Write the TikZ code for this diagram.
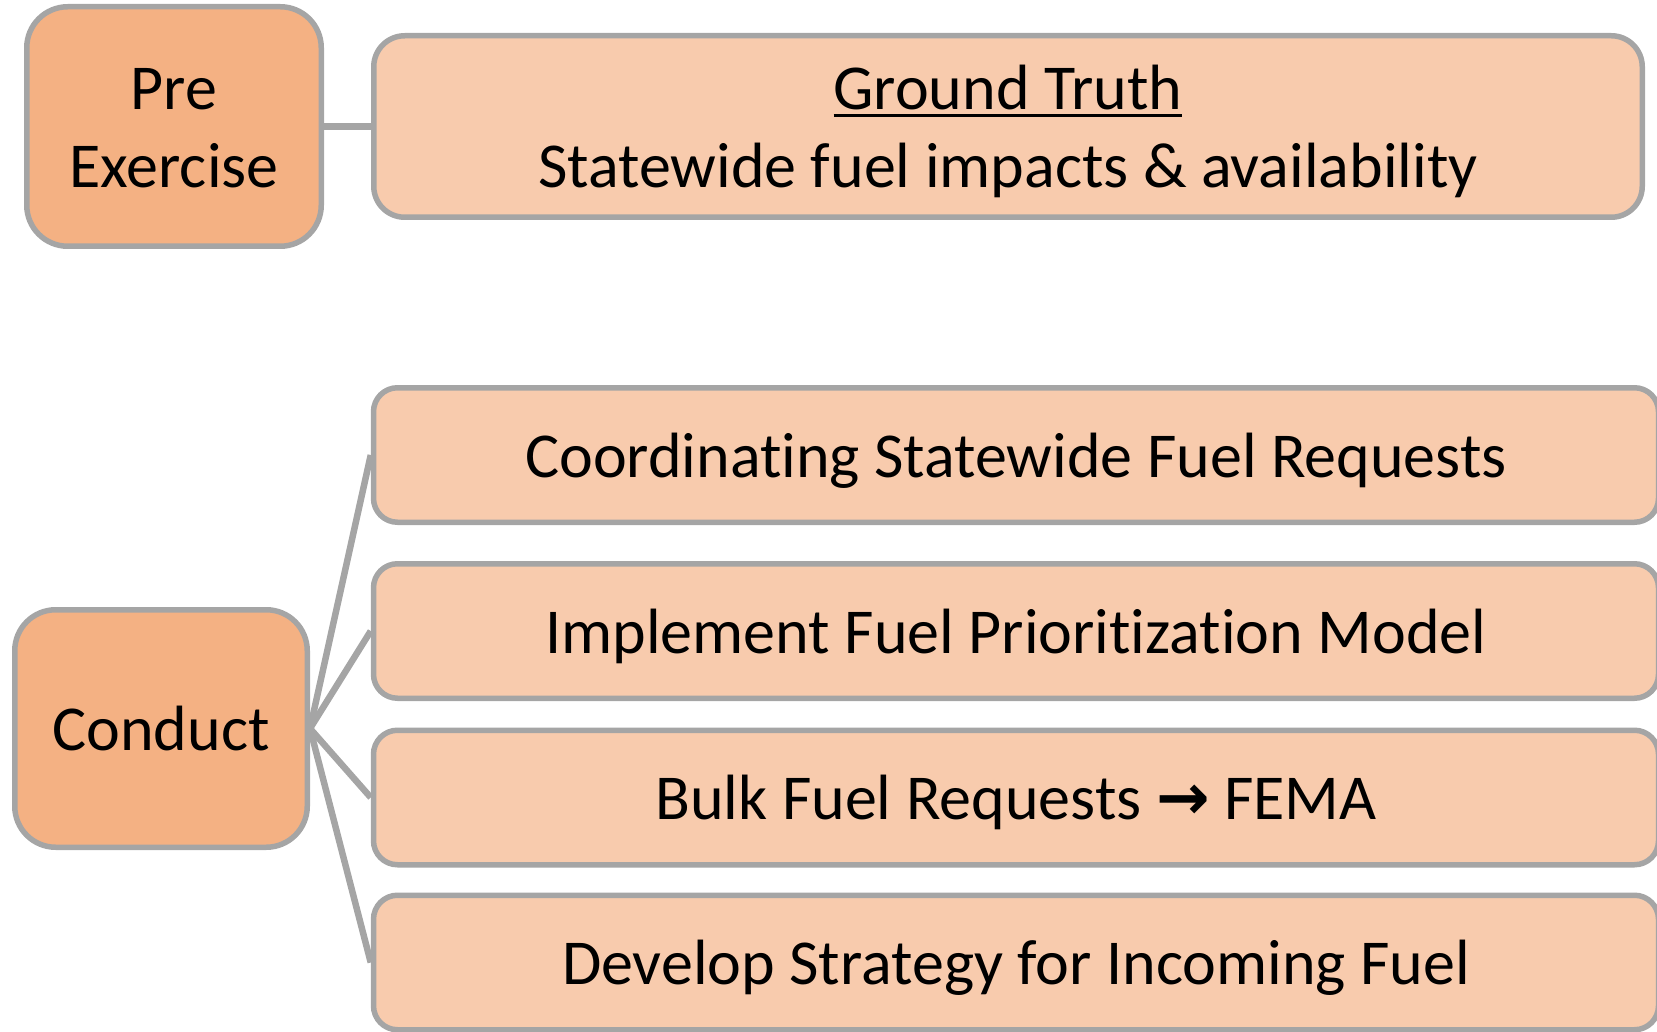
\documentclass[tikz,border=0pt]{standalone}
\usepackage{fontspec}
\setmainfont{Carlito}[Ligatures=NoCommon]
\newfontfamily\arrowfont{DejaVu Sans}
\definecolor{stagefill}{HTML}{F4B183}
\definecolor{taskfill}{HTML}{F8CBAD}
\definecolor{edgegray}{HTML}{A5A5A5}
\newcommand{\ulbar}[1]{\setbox0\hbox{#1}\rlap{\rule[-8pt]{\wd0}{3.5pt}}\box0}

\begin{document}
\begin{tikzpicture}[x=1pt,y=-1pt,
  stage/.style={draw=edgegray,line width=5.5pt,fill=stagefill,rounded corners=41pt,inner sep=0pt,
    font=\fontsize{64}{78}\selectfont,align=center,text height=61pt,text depth=17pt},
  task/.style={draw=edgegray,line width=5.5pt,fill=taskfill,rounded corners=24pt,inner sep=0pt,
    minimum width=1285pt,minimum height=134.5pt,font=\fontsize{64}{78}\selectfont,align=center,
    text height=61pt,text depth=17pt},
  link/.style={draw=edgegray,line width=6.5pt}]
\useasboundingbox (0,0) rectangle (1657,1032);
\clip (0,0) rectangle (1657,1032);
% PRE EXERCISE
\node [stage,minimum width=294.5pt,minimum height=239.5pt,text height=139pt] (pre) at (174,126.5) {Pre\\Exercise};
\node [task,minimum width=1268.5pt,minimum height=181.5pt,rounded corners=31pt,text height=139pt] (truth) at (1008,126.5)
  {\ulbar{Ground Truth}\\Statewide fuel impacts \& availability};
\draw [link] (pre) -- (truth);
% CONDUCT
\node [stage,minimum width=292.5pt,minimum height=237.5pt] (conduct) at (161,728.5) {Conduct};
\node [task] (coord) at (1016,455) {Coordinating Statewide Fuel Requests};
\node [task] (model) at (1016,631) {Implement Fuel Prioritization Model};
\node [task] (bulk) at (1016,797.5) {Bulk Fuel Requests {\arrowfont\bfseries →} FEMA};
\node [task] (incoming) at (1016,962.5) {Develop Strategy for Incoming Fuel};
% LINKS
\draw [link] (conduct.east) -- (coord.west);
\draw [link] (conduct.east) -- (model.west);
\draw [link] (conduct.east) -- (bulk.west);
\draw [link] (conduct.east) -- (incoming.west);
\end{tikzpicture}
\end{document}
